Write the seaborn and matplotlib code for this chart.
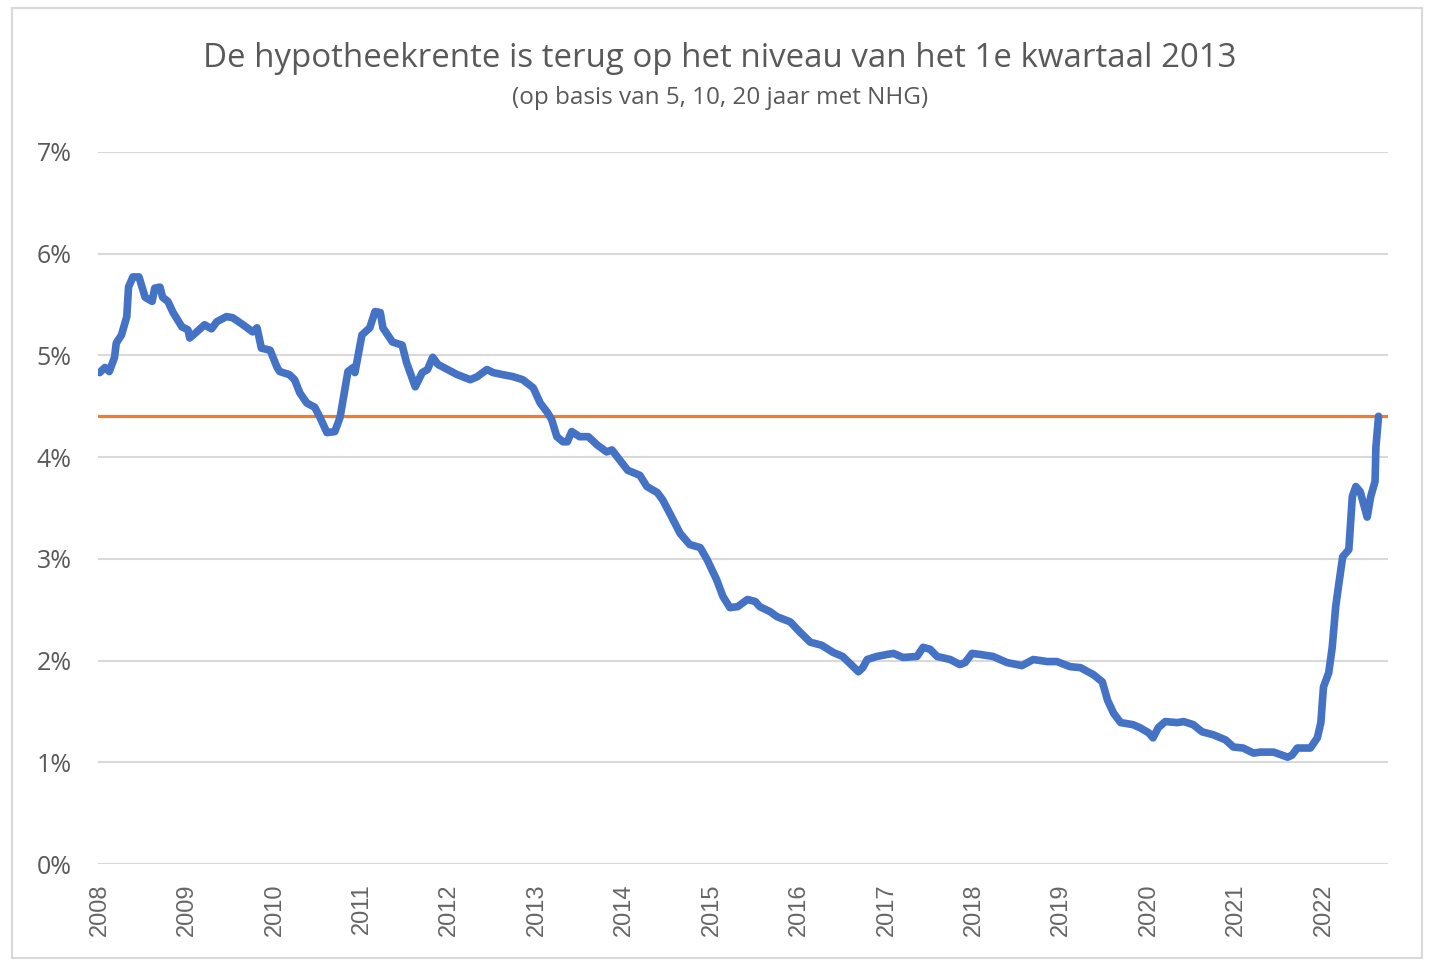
import seaborn as sns
import pandas as pd
import numpy as np
import matplotlib.pyplot as plt
from matplotlib.patches import Rectangle
from matplotlib.ticker import FuncFormatter

# hypotheekrente (5, 10, 20 jaar NHG)
jaar = [2008.00, 2008.06, 2008.11, 2008.17, 2008.19, 2008.25, 2008.31, 2008.33, 2008.38, 2008.45,
        2008.52, 2008.60, 2008.63, 2008.69, 2008.72, 2008.78, 2008.84, 2008.94, 2009.01, 2009.03,
        2009.11, 2009.20, 2009.28, 2009.34, 2009.45, 2009.52, 2009.64, 2009.75, 2009.80, 2009.85,
        2009.95, 2010.03, 2010.06, 2010.17, 2010.23, 2010.29, 2010.37, 2010.46, 2010.52, 2010.60,
        2010.69, 2010.75, 2010.80, 2010.84, 2010.90, 2010.92, 2011.00, 2011.09, 2011.15, 2011.21,
        2011.24, 2011.35, 2011.46, 2011.51, 2011.61, 2011.69, 2011.75, 2011.81, 2011.87, 2011.98,
        2012.09, 2012.24, 2012.32, 2012.43, 2012.50, 2012.61, 2012.73, 2012.84, 2012.96, 2013.04,
        2013.12, 2013.17, 2013.23, 2013.30, 2013.35, 2013.40, 2013.49, 2013.59, 2013.69, 2013.80,
        2013.86, 2013.95, 2014.04, 2014.18, 2014.26, 2014.38, 2014.44, 2014.52, 2014.64, 2014.75,
        2014.87, 2014.95, 2015.06, 2015.13, 2015.21, 2015.30, 2015.41, 2015.50, 2015.55, 2015.67,
        2015.75, 2015.90, 2016.01, 2016.13, 2016.26, 2016.39, 2016.50, 2016.62, 2016.68, 2016.73,
        2016.78, 2016.89, 2017.01, 2017.08, 2017.19, 2017.35, 2017.42, 2017.50, 2017.58, 2017.73,
        2017.84, 2017.90, 2017.98, 2018.07, 2018.22, 2018.38, 2018.55, 2018.68, 2018.84, 2018.95,
        2019.10, 2019.22, 2019.37, 2019.47, 2019.53, 2019.60, 2019.68, 2019.82, 2019.90, 2020.00,
        2020.05, 2020.11, 2020.19, 2020.33, 2020.40, 2020.51, 2020.61, 2020.74, 2020.88, 2020.97,
        2021.08, 2021.20, 2021.28, 2021.43, 2021.59, 2021.64, 2021.70, 2021.85, 2021.93, 2021.97,
        2022.00, 2022.06, 2022.10, 2022.14, 2022.17, 2022.22, 2022.29, 2022.33, 2022.37, 2022.42,
        2022.50, 2022.54, 2022.59, 2022.60, 2022.63]

rente = [4.83, 4.88, 4.84, 4.98, 5.12, 5.20, 5.38, 5.67, 5.77, 5.77,
         5.57, 5.53, 5.66, 5.67, 5.57, 5.53, 5.42, 5.28, 5.25, 5.17,
         5.23, 5.30, 5.26, 5.33, 5.38, 5.37, 5.30, 5.23, 5.27, 5.07,
         5.05, 4.88, 4.84, 4.81, 4.76, 4.63, 4.53, 4.49, 4.39, 4.24,
         4.25, 4.39, 4.64, 4.84, 4.88, 4.83, 5.20, 5.27, 5.43, 5.42,
         5.27, 5.13, 5.10, 4.93, 4.69, 4.83, 4.86, 4.98, 4.91, 4.86,
         4.81, 4.76, 4.79, 4.86, 4.83, 4.81, 4.79, 4.76, 4.68, 4.53,
         4.44, 4.37, 4.20, 4.15, 4.15, 4.25, 4.20, 4.20, 4.12, 4.05,
         4.07, 3.97, 3.87, 3.82, 3.71, 3.65, 3.58, 3.45, 3.25, 3.14,
         3.11, 2.99, 2.79, 2.63, 2.52, 2.53, 2.60, 2.58, 2.53, 2.48,
         2.43, 2.38, 2.28, 2.18, 2.15, 2.08, 2.04, 1.94, 1.89, 1.93,
         2.01, 2.04, 2.06, 2.07, 2.03, 2.04, 2.13, 2.11, 2.04, 2.01,
         1.96, 1.98, 2.07, 2.06, 2.04, 1.98, 1.95, 2.01, 1.99, 1.99,
         1.94, 1.93, 1.86, 1.79, 1.61, 1.48, 1.39, 1.37, 1.34, 1.29,
         1.24, 1.34, 1.40, 1.39, 1.40, 1.37, 1.30, 1.27, 1.22, 1.15,
         1.14, 1.09, 1.10, 1.10, 1.05, 1.07, 1.14, 1.14, 1.24, 1.39,
         1.74, 1.88, 2.13, 2.53, 2.72, 3.02, 3.09, 3.61, 3.71, 3.66,
         3.41, 3.61, 3.76, 4.10, 4.40]

niveau_2013 = 4.4
jaren = list(range(2008, 2023))

df = pd.DataFrame({'jaar': jaar, 'rente': rente})

sns.set_theme(style='white')
plt.rcParams['font.family'] = ['Open Sans', 'DejaVu Sans']

fig = plt.figure(figsize=(14.4, 9.73), dpi=100)
ax = fig.add_axes([0.068, 0.112, 0.896, 0.732])

ax.axhline(niveau_2013, color='#ED7D31', lw=2.3, zorder=2)
sns.lineplot(data=df, x='jaar', y='rente', ax=ax, color='#4472C4', lw=5.5,
             solid_joinstyle='round', solid_capstyle='round', zorder=3)

ax.set_xlim(2007.98, 2022.74)
ax.set_ylim(0, 7)
ax.set_yticks(range(0, 8))
ax.yaxis.set_major_formatter(FuncFormatter(lambda v, p: f'{v:.0f}%'))
ax.set_xticks(jaren)
ax.set_xticklabels([str(j) for j in jaren], rotation=90, family='Liberation Sans',
                   fontsize=17, color='#666666')
ax.tick_params(axis='y', labelsize=18, labelcolor='#595959', pad=19, length=0)
ax.tick_params(axis='x', pad=14, length=0)
ax.grid(axis='y', color='#d9d9d9', lw=1.5)
ax.grid(axis='x', visible=False)
sns.despine(ax=ax, left=True, bottom=True)
ax.set_xlabel('')
ax.set_ylabel('')

fig.text(0.5, 0.940, 'De hypotheekrente is terug op het niveau van het 1e kwartaal 2013',
         ha='center', va='center', fontsize=23.8, color='#595959')
fig.text(0.5, 0.899, '(op basis van 5, 10, 20 jaar met NHG)',
         ha='center', va='center', fontsize=17.5, color='#595959')

fig.add_artist(Rectangle((0.0083, 0.0154), 0.979, 0.976, transform=fig.transFigure,
                         fill=False, edgecolor='#d9d9d9', lw=1.5))

fig.savefig('out.png', dpi=100)
